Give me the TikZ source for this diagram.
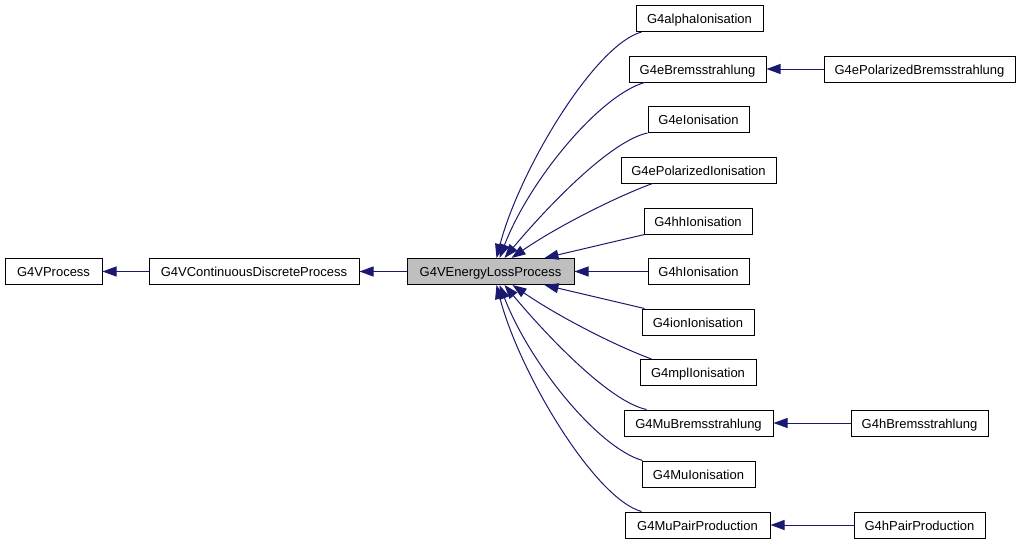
\documentclass[tikz,border=0pt]{standalone}
\usepackage{fontspec}
\setmainfont{Liberation Sans}
\usetikzlibrary{arrows.meta}
\definecolor{edgeblue}{RGB}{25,25,112}
\definecolor{boxgray}{RGB}{191,191,191}
\tikzset{
  cls/.style={draw=black, line width=1pt, fill=white, minimum height=26pt, inner sep=0pt,
    text height=10pt, text depth=0pt,
    font=\fontsize{13}{15}\selectfont, text=black},
  edge/.style={draw=edgeblue, line width=1pt, -{Triangle[length=14pt,width=10pt]}},
}
\begin{document}
\begin{tikzpicture}[x=1pt,y=-1pt]
\useasboundingbox (0,0) rectangle (1021,544);
% left chain
\node[cls, minimum width=97pt] (vproc) at (53.5,271.5) {G4VProcess};
\node[cls, minimum width=210pt] (vcdp) at (254,271.5) {G4VContinuousDiscreteProcess};
\node[cls, minimum width=167pt, fill=boxgray] (elp) at (490.5,271.5) {G4VEnergyLossProcess};
% right column
\node[cls, minimum width=127pt] (alpha) at (699.5,18.5) {G4alphaIonisation};
\node[cls, minimum width=137pt] (ebrem) at (697.5,69) {G4eBremsstrahlung};
\node[cls, minimum width=191pt] (epbrem) at (919.5,69) {G4ePolarizedBremsstrahlung};
\node[cls, minimum width=101pt] (eion) at (698.5,119.5) {G4eIonisation};
\node[cls, minimum width=155pt] (epion) at (698.5,170) {G4ePolarizedIonisation};
\node[cls, minimum width=108pt] (hhion) at (698,221) {G4hhIonisation};
\node[cls, minimum width=101pt] (hion) at (698.5,271.5) {G4hIonisation};
\node[cls, minimum width=112pt] (ionion) at (698,322) {G4ionIonisation};
\node[cls, minimum width=116pt] (mplion) at (698,372.5) {G4mplIonisation};
\node[cls, minimum width=149pt] (mubrem) at (698.5,423) {G4MuBremsstrahlung};
\node[cls, minimum width=137pt] (hbrem) at (919.5,423) {G4hBremsstrahlung};
\node[cls, minimum width=113pt] (muion) at (698.5,474) {G4MuIonisation};
\node[cls, minimum width=145pt] (mupair) at (697.5,525) {G4MuPairProduction};
\node[cls, minimum width=131pt] (hpair) at (919.5,525) {G4hPairProduction};
% straight edges
\draw[edge] (vcdp.west) -- (vproc.east);
\draw[edge] (elp.west) -- (vcdp.east);
\draw[edge] (hion.west) -- (elp.east);
\draw[edge] (epbrem.west) -- (ebrem.east);
\draw[edge] (hbrem.west) -- (mubrem.east);
\draw[edge] (hpair.west) -- (mupair.east);
% curved edges, upper
\draw[edge] ([xshift=6pt]alpha.south west) .. controls +(-47,13) and +(23,-88) .. ([xshift=90pt]elp.north west);
\draw[edge] ([xshift=16pt]ebrem.south west) .. controls +(-45,13) and +(30,-78) .. ([xshift=93pt]elp.north west);
\draw[edge] (eion.south west) .. controls +(-38,8) and +(40,-48) .. ([xshift=98pt]elp.north west);
\draw[edge] ([xshift=32pt]epion.south west) .. controls +(-33,12) and +(48,-33) .. ([xshift=105pt]elp.north west);
\draw[edge] ([xshift=1pt]hhion.south west) -- ([xshift=138pt]elp.north west);
% curved edges, lower
\draw[edge] ([xshift=3pt]ionion.north west) -- ([xshift=138pt]elp.south west);
\draw[edge] ([xshift=12pt]mplion.north west) .. controls +(-33,-12) and +(48,33) .. ([xshift=106pt]elp.south west);
\draw[edge] ([xshift=23pt]mubrem.north west) .. controls +(-38,-8) and +(40,48) .. ([xshift=98pt]elp.south west);
\draw[edge] ([xshift=1pt]muion.north west) .. controls +(-45,-13) and +(30,78) .. ([xshift=93pt]elp.south west);
\draw[edge] ([xshift=17pt]mupair.north west) .. controls +(-47,-13) and +(23,88) .. ([xshift=90pt]elp.south west);
\end{tikzpicture}
\end{document}
